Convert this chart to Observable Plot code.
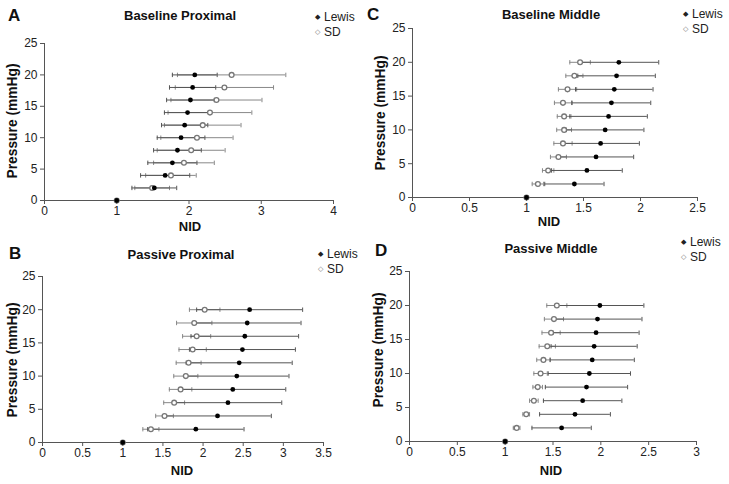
<!DOCTYPE html>
<html><head><meta charset="utf-8">
<script src="https://cdn.jsdelivr.net/npm/d3@7"></script>
<script src="https://cdn.jsdelivr.net/npm/@observablehq/plot@0.6"></script>
<style>
body{margin:0;background:#fff;font-family:"Liberation Sans",Arial,sans-serif;}
#fig{position:relative;width:729px;height:484px;overflow:hidden;background:#fff;}
.panel{position:absolute;}
.t{position:absolute;white-space:nowrap;color:#111;transform:translate(-50%,-50%);line-height:1;}
.title{font-weight:bold;font-size:13px;}
.letter{font-weight:bold;font-size:17px;transform:translate(0,-50%);}
.axl{font-weight:bold;font-size:13px;}
.yl{font-size:13.8px;transform:translate(-50%,-50%) rotate(-90deg);}
.leg{font-size:12px;transform:translate(0,-50%);color:#222;}
.leg span{display:inline-block;width:9px;font-size:7px;vertical-align:2px;}
</style></head><body><div id="fig"></div><script>
const pressures=[0,2,4,6,8,10,12,14,16,18,20];
const yTicks=[0,5,10,15,20,25];

// A: Baseline Proximal
const aLewis=[1,1.52,1.67,1.77,1.84,1.89,1.94,1.98,2.02,2.05,2.08];
const aLewisErr=[0,0.31,0.34,0.34,0.33,0.33,0.32,0.32,0.33,0.32,0.31];
const aSD=[1,1.49,1.75,1.93,2.03,2.11,2.19,2.29,2.38,2.49,2.59];
const aSDErr=[0,0.24,0.35,0.42,0.47,0.50,0.53,0.58,0.63,0.68,0.75];
const aTicks=[0,1,2,3,4];

// C: Baseline Middle
const cLewis=[1,1.42,1.53,1.61,1.65,1.69,1.72,1.745,1.77,1.79,1.81];
const cLewisErr=[0,0.26,0.31,0.33,0.34,0.34,0.34,0.345,0.34,0.34,0.35];
const cSD=[1,1.10,1.19,1.28,1.32,1.33,1.33,1.32,1.36,1.42,1.47];
const cSDErr=[0,0.05,0.05,0.07,0.08,0.065,0.06,0.075,0.08,0.075,0.09];
const cTicks=[0,0.5,1,1.5,2,2.5];

// B: Passive Proximal
const bLewis=[1,1.91,2.18,2.31,2.37,2.42,2.45,2.49,2.52,2.55,2.58];
const bLewisErr=[0,0.6,0.67,0.67,0.66,0.65,0.66,0.66,0.67,0.67,0.66];
const bSD=[1,1.35,1.52,1.64,1.72,1.785,1.82,1.87,1.92,1.89,2.02];
const bSDErr=[0,0.10,0.11,0.13,0.14,0.15,0.155,0.17,0.175,0.22,0.19];
const bTicks=[0,0.5,1,1.5,2,2.5,3,3.5];

// D: Passive Middle
const dLewis=[1,1.59,1.73,1.81,1.85,1.88,1.91,1.93,1.95,1.965,1.99];
const dLewisErr=[0,0.31,0.37,0.41,0.43,0.43,0.44,0.45,0.45,0.465,0.46];
const dSD=[1,1.12,1.22,1.30,1.34,1.37,1.40,1.44,1.48,1.51,1.54];
const dSDErr=[0,0.035,0.035,0.045,0.05,0.07,0.07,0.085,0.095,0.10,0.105];
const dTicks=[0,0.5,1,1.5,2,2.5,3];

const capSymbol={draw(ctx,size){const r=Math.sqrt(size/Math.PI);ctx.moveTo(0,-r);ctx.lineTo(0,r);}};

function rows(means,errs){return pressures.map((p,i)=>({p,x:means[i],lo:means[i]-errs[i],hi:means[i]+errs[i],e:errs[i]}));}

const fig=document.getElementById("fig");
function addText(cls,txt,x,y){const d=document.createElement("div");d.className="t "+cls;d.innerHTML=txt;d.style.left=x+"px";d.style.top=y+"px";fig.appendChild(d);}

function panel(cfg){
  const L=rows(cfg.lewis,cfg.lewisErr), S=rows(cfg.sd,cfg.sdErr);
  const Lb=L.filter(d=>d.e>0), Sb=S.filter(d=>d.e>0);
  const caps=(arr)=>arr.flatMap(d=>[{p:d.p,x:d.lo},{p:d.p,x:d.hi}]);
  const svg=Plot.plot({
    width:cfg.w,height:cfg.h,
    marginLeft:cfg.ml,marginRight:cfg.mr,marginTop:cfg.mt,marginBottom:cfg.mb,
    x:{domain:[cfg.ticks[0],cfg.ticks[cfg.ticks.length-1]]},
    y:{domain:[0,25]},
    style:{fontFamily:"'Liberation Sans',Arial,sans-serif",fontSize:"12px",color:"#222",background:"transparent",overflow:"visible"},
    marks:[
      Plot.axisX({ticks:cfg.ticks,tickFormat:d=>String(d),tickSize:4,tickPadding:2,label:null,stroke:"#555",fontSize:12}),
      Plot.axisY({ticks:yTicks,tickFormat:d=>String(d),tickSize:4,tickPadding:3,label:null,stroke:"#555",fontSize:12}),
      Plot.ruleY([0],{stroke:"#555"}),
      Plot.ruleX([cfg.ticks[0]],{stroke:"#555"}),
      Plot.ruleY(Sb,{y:"p",x1:"lo",x2:"hi",stroke:"#888",strokeWidth:1}),
      Plot.dot(caps(Sb),{x:"x",y:"p",symbol:capSymbol,r:2.2,stroke:"#888",strokeWidth:1}),
      Plot.ruleY(Lb,{y:"p",x1:"lo",x2:"hi",stroke:"#555",strokeWidth:1}),
      Plot.dot(caps(Lb),{x:"x",y:"p",symbol:capSymbol,r:2.2,stroke:"#555",strokeWidth:1}),
      Plot.dot(S,{x:"x",y:"p",r:2.4,fill:"white",stroke:"#777",strokeWidth:1.3}),
      Plot.dot(L,{x:"x",y:"p",r:2.4,fill:"#000",stroke:"none"})
    ]
  });
  const wrap=document.createElement("div");wrap.className="panel";
  wrap.style.left=cfg.left+"px";wrap.style.top=cfg.top+"px";
  wrap.appendChild(svg);fig.appendChild(wrap);
  const ox=cfg.left, oy=cfg.top;
  addText("letter",cfg.letter,ox+cfg.lx,oy+cfg.ly);
  addText("title",cfg.title,ox+cfg.tx,oy+cfg.ty);
  addText("axl yl","Pressure (mmHg)",ox+cfg.yx,oy+cfg.yy);
  addText("axl","NID",ox+cfg.nx,oy+cfg.ny);
  addText("leg","<span>&#9670;</span>Lewis",ox+cfg.gx,oy+cfg.gy);
  addText("leg",'<span style="color:#777">&#9671;</span>SD',ox+cfg.gx,oy+cfg.gy+15);
}

panel({left:0,top:0,w:364,h:240,ml:44,mr:31,mt:43,mb:40,ticks:aTicks,
  lewis:aLewis,lewisErr:aLewisErr,sd:aSD,sdErr:aSDErr,
  letter:"A",lx:8,ly:15,title:"Baseline Proximal",tx:180,ty:15,
  yx:13,yy:121,nx:190,ny:226,gx:315,gy:17});
panel({left:364,top:0,w:365,h:240,ml:48,mr:32,mt:28,mb:43,ticks:cTicks,
  lewis:cLewis,lewisErr:cLewisErr,sd:cSD,sdErr:cSDErr,
  letter:"C",lx:3,ly:14,title:"Baseline Middle",tx:187,ty:14,
  yx:17,yy:113,nx:185,ny:221,gx:319,gy:14});
panel({left:0,top:240,w:364,h:244,ml:42,mr:41,mt:36,mb:42,ticks:bTicks,
  lewis:bLewis,lewisErr:bLewisErr,sd:bSD,sdErr:bSDErr,
  letter:"B",lx:9,ly:13,title:"Passive Proximal",tx:181,ty:14,
  yx:13,yy:120,nx:182,ny:230,gx:318,gy:14});
panel({left:364,top:240,w:365,h:244,ml:45,mr:33,mt:31,mb:43,ticks:dTicks,
  lewis:dLewis,lewisErr:dLewisErr,sd:dSD,sdErr:dSDErr,
  letter:"D",lx:11,ly:10,title:"Passive Middle",tx:187,ty:8,
  yx:15,yy:110,nx:187,ny:230,gx:317,gy:2});
</script></body></html>
